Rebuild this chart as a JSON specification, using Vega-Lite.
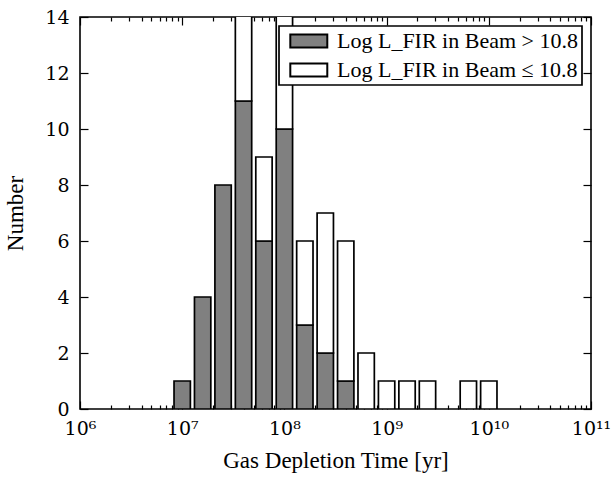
{
  "$schema": "https://vega.github.io/schema/vega-lite/v6.json",
  "autosize": {"type": "none"},
  "width": 511,
  "height": 392,
  "padding": {"left": 80, "top": 17, "right": 21, "bottom": 69},
  "background": "white",
  "config": {
    "view": {"stroke": "black", "strokeWidth": 1.6},
    "font": "Liberation Serif",
    "axis": {
      "labelFont": "DejaVu Serif",
      "titleFont": "Liberation Serif",
      "labelFontSize": 19,
      "titleFontSize": 23,
      "titleFontWeight": "normal",
      "labelColor": "black",
      "titleColor": "black",
      "tickColor": "black",
      "tickWidth": 1.2,
      "domain": false,
      "grid": false
    },
    "legend": {
      "labelFont": "Liberation Serif",
      "labelFontSize": 22,
      "labelColor": "black",
      "labelLimit": 0
    }
  },
  "datasets": {
    "hist": [
      {"lo": 8.318e6, "hi": 1.2023e7, "group": "Log L_FIR in Beam > 10.8", "n": 1},
      {"lo": 1.3183e7, "hi": 1.9055e7, "group": "Log L_FIR in Beam > 10.8", "n": 4},
      {"lo": 2.0893e7, "hi": 3.0200e7, "group": "Log L_FIR in Beam > 10.8", "n": 8},
      {"lo": 3.3113e7, "hi": 4.7863e7, "group": "Log L_FIR in Beam > 10.8", "n": 11},
      {"lo": 3.3113e7, "hi": 4.7863e7, "group": "Log L_FIR in Beam ≤ 10.8", "n": 4},
      {"lo": 5.2481e7, "hi": 7.5858e7, "group": "Log L_FIR in Beam > 10.8", "n": 6},
      {"lo": 5.2481e7, "hi": 7.5858e7, "group": "Log L_FIR in Beam ≤ 10.8", "n": 3},
      {"lo": 8.3176e7, "hi": 1.2023e8, "group": "Log L_FIR in Beam > 10.8", "n": 10},
      {"lo": 8.3176e7, "hi": 1.2023e8, "group": "Log L_FIR in Beam ≤ 10.8", "n": 5},
      {"lo": 1.3183e8, "hi": 1.9055e8, "group": "Log L_FIR in Beam > 10.8", "n": 3},
      {"lo": 1.3183e8, "hi": 1.9055e8, "group": "Log L_FIR in Beam ≤ 10.8", "n": 3},
      {"lo": 2.0893e8, "hi": 3.0200e8, "group": "Log L_FIR in Beam > 10.8", "n": 2},
      {"lo": 2.0893e8, "hi": 3.0200e8, "group": "Log L_FIR in Beam ≤ 10.8", "n": 5},
      {"lo": 3.3113e8, "hi": 4.7863e8, "group": "Log L_FIR in Beam > 10.8", "n": 1},
      {"lo": 3.3113e8, "hi": 4.7863e8, "group": "Log L_FIR in Beam ≤ 10.8", "n": 5},
      {"lo": 5.2481e8, "hi": 7.5858e8, "group": "Log L_FIR in Beam ≤ 10.8", "n": 2},
      {"lo": 8.3176e8, "hi": 1.2023e9, "group": "Log L_FIR in Beam ≤ 10.8", "n": 1},
      {"lo": 1.3183e9, "hi": 1.9055e9, "group": "Log L_FIR in Beam ≤ 10.8", "n": 1},
      {"lo": 2.0893e9, "hi": 3.0200e9, "group": "Log L_FIR in Beam ≤ 10.8", "n": 1},
      {"lo": 5.2481e9, "hi": 7.5858e9, "group": "Log L_FIR in Beam ≤ 10.8", "n": 1},
      {"lo": 8.3176e9, "hi": 1.2023e10, "group": "Log L_FIR in Beam ≤ 10.8", "n": 1}
    ]
  },
  "data": {"name": "hist"},
  "transform": [
    {"stack": "n", "groupby": ["lo"], "sort": [{"field": "group", "order": "ascending"}], "as": ["y0", "y1"]}
  ],
  "layer": [
    {
      "mark": {"type": "bar", "stroke": "black", "strokeWidth": 1.7, "clip": true},
      "encoding": {
        "x": {
          "field": "lo", "type": "quantitative",
          "scale": {"type": "log", "domain": [1e6, 1e11], "nice": false},
          "axis": {
            "orient": "bottom",
            "values": [1e6, 1e7, 1e8, 1e9, 1e10, 1e11],
            "tickSize": -8,
            "labelPadding": 18,
            "labelExpr": "round(log(datum.value)/LN10) == 6 ? '10⁶' : round(log(datum.value)/LN10) == 7 ? '10⁷' : round(log(datum.value)/LN10) == 8 ? '10⁸' : round(log(datum.value)/LN10) == 9 ? '10⁹' : round(log(datum.value)/LN10) == 10 ? '10¹⁰' : '10¹¹'",
            "labelFlush": false,
            "title": "Gas Depletion Time [yr]",
            "titlePadding": 11
          }
        },
        "x2": {"field": "hi"},
        "y": {
          "field": "y0", "type": "quantitative",
          "scale": {"domain": [0, 14], "nice": false},
          "axis": {
            "orient": "left",
            "values": [0, 2, 4, 6, 8, 10, 12, 14],
            "tickSize": -8,
            "labelPadding": 19,
            "labelFlush": false,
            "title": "Number",
            "titlePadding": 17
          }
        },
        "y2": {"field": "y1"},
        "color": {
          "field": "group", "type": "nominal",
          "scale": {
            "domain": ["Log L_FIR in Beam > 10.8", "Log L_FIR in Beam ≤ 10.8"],
            "range": ["#808080", "#ffffff"]
          },
          "legend": {
            "title": null,
            "orient": "top-right",
            "offset": 9,
            "padding": 4,
            "strokeColor": "black",
            "fillColor": "white",
            "symbolType": "M-0.4,-0.7H3.6V0.7H-0.4Z",
            "symbolSize": 342,
            "symbolStrokeColor": "black",
            "symbolStrokeWidth": 2,
            "symbolOpacity": 1,
            "labelOffset": 32,
            "rowPadding": 7,
            "cornerRadius": 0,
            "encode": {
              "symbols": {"update": {"stroke": {"value": "black"}, "strokeWidth": {"value": 2}}},
              "legend": {"update": {"strokeWidth": {"value": 1.7}}}
            }
          }
        }
      }
    },
    {
      "mark": {"type": "point", "opacity": 0},
      "encoding": {
        "x": {
          "field": "lo", "type": "quantitative",
          "axis": {
            "orient": "top",
            "values": [1e6, 1e7, 1e8, 1e9, 1e10, 1e11],
            "tickSize": -8,
            "labels": false,
            "title": null
          }
        },
        "y": {
          "field": "y1", "type": "quantitative",
          "axis": {
            "orient": "right",
            "values": [0, 2, 4, 6, 8, 10, 12, 14],
            "tickSize": -8,
            "labels": false,
            "title": null
          }
        }
      }
    },
    {
      "mark": {"type": "point", "opacity": 0},
      "encoding": {
        "x": {
          "field": "lo", "type": "quantitative",
          "axis": {
            "orient": "bottom",
            "values": [2e6, 3e6, 4e6, 5e6, 6e6, 7e6, 8e6, 9e6, 2e7, 3e7, 4e7, 5e7, 6e7, 7e7, 8e7, 9e7, 2e8, 3e8, 4e8, 5e8, 6e8, 7e8, 8e8, 9e8, 2e9, 3e9, 4e9, 5e9, 6e9, 7e9, 8e9, 9e9, 2e10, 3e10, 4e10, 5e10, 6e10, 7e10, 8e10, 9e10],
            "tickSize": -4,
            "labels": false,
            "title": null
          }
        },
        "y": {"field": "y1", "type": "quantitative", "axis": null}
      }
    },
    {
      "mark": {"type": "point", "opacity": 0},
      "encoding": {
        "x": {
          "field": "lo", "type": "quantitative",
          "axis": {
            "orient": "top",
            "values": [2e6, 3e6, 4e6, 5e6, 6e6, 7e6, 8e6, 9e6, 2e7, 3e7, 4e7, 5e7, 6e7, 7e7, 8e7, 9e7, 2e8, 3e8, 4e8, 5e8, 6e8, 7e8, 8e8, 9e8, 2e9, 3e9, 4e9, 5e9, 6e9, 7e9, 8e9, 9e9, 2e10, 3e10, 4e10, 5e10, 6e10, 7e10, 8e10, 9e10],
            "tickSize": -4,
            "labels": false,
            "title": null
          }
        },
        "y": {"field": "y1", "type": "quantitative", "axis": null}
      }
    }
  ],
  "resolve": {"axis": {"x": "independent", "y": "independent"}}
}
